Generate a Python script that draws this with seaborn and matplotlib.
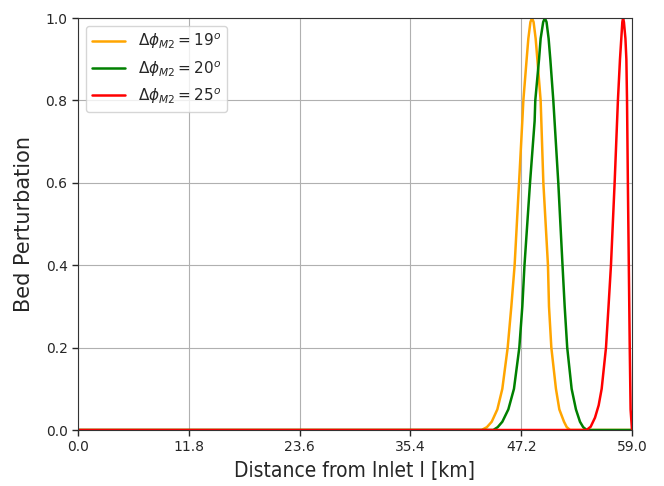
import matplotlib
matplotlib.use("Agg")
import matplotlib.pyplot as plt
import seaborn as sns
import pandas as pd

labels = [r'$\Delta\phi_{M2} = 19^o$', r'$\Delta\phi_{M2} = 20^o$', r'$\Delta\phi_{M2} = 25^o$']
colors = ['orange', 'green', 'red']

x19 = [0.0, 42.99, 43.55, 44.06, 44.66, 45.19, 45.76, 46.15, 46.5, 46.97, 47.32, 47.43, 47.78, 47.96,
       48.18, 48.35, 48.52, 48.74, 48.92, 49.27, 49.56, 50.05, 50.16, 50.41, 50.9, 51.26, 51.76,
       52.05, 52.4, 59.0]
y19 = [0.0, 0.0, 0.007, 0.02, 0.05, 0.1, 0.2, 0.3, 0.4, 0.6, 0.75, 0.8, 0.9, 0.95,
       0.99, 1.0, 0.99, 0.95, 0.9, 0.8, 0.6, 0.4, 0.3, 0.2, 0.1, 0.05, 0.02,
       0.007, 0.0, 0.0]

x20 = [0.0, 44.23, 44.7, 45.19, 45.83, 46.43, 47.0, 47.32, 47.55, 48.14, 48.63, 48.7, 49.1, 49.27,
       49.54, 49.72, 49.9, 50.12, 50.3, 50.62, 51.15, 51.6, 51.83, 52.1, 52.57, 53.03, 53.46,
       53.8, 54.17, 59.0]
y20 = [0.0, 0.0, 0.007, 0.02, 0.05, 0.1, 0.2, 0.3, 0.4, 0.6, 0.75, 0.8, 0.9, 0.95,
       0.99, 1.0, 0.99, 0.95, 0.9, 0.8, 0.6, 0.4, 0.3, 0.2, 0.1, 0.05, 0.02,
       0.007, 0.0, 0.0]

x25 = [0.0, 54.17, 54.6, 55.06, 55.45, 55.77, 56.23, 56.5, 56.76, 57.15, 57.5, 57.72, 57.86, 57.97,
       58.05, 58.14, 58.3, 58.4, 58.47, 58.56, 58.66, 58.76, 58.85, 59.0]
y25 = [0.0, 0.0, 0.008, 0.03, 0.06, 0.1, 0.2, 0.3, 0.4, 0.6, 0.8, 0.9, 0.95, 0.99,
       1.0, 0.99, 0.95, 0.9, 0.8, 0.6, 0.4, 0.2, 0.05, 0.0]

xticks = [0.0, 11.8, 23.6, 35.4, 47.2, 59.0]
yticks = [0.0, 0.2, 0.4, 0.6, 0.8, 1.0]

frames = []
for lab, xs, ys in zip(labels, [x19, x20, x25], [y19, y20, y25]):
    frames.append(pd.DataFrame({'x': xs, 'y': ys, 'series': lab}))
df = pd.concat(frames, ignore_index=True)

sns.set_style("ticks", {"axes.grid": True, "grid.color": "#b0b0b0",
                        "axes.edgecolor": "black", "xtick.bottom": True, "ytick.left": True})
plt.rcParams['font.family'] = ['DejaVu Sans']

fig = plt.figure(figsize=(6.64, 4.86), dpi=100)
ax = fig.add_axes([78 / 664, 1 - 430 / 486, (632 - 78) / 664, (430 - 18) / 486])
sns.lineplot(data=df, x='x', y='y', hue='series', palette=dict(zip(labels, colors)),
             sort=False, estimator=None, units='series', ax=ax, linewidth=1.8)

ax.set_xlim(0, 59)
ax.set_ylim(0, 1)
ax.set_xticks(xticks)
ax.set_xticklabels([f"{t:.1f}" for t in xticks])
ax.set_yticks(yticks)
ax.set_yticklabels([f"{t:.1f}" for t in yticks])
ax.tick_params(labelsize=10, length=4, width=1)
ax.grid(True, color="#b0b0b0", linewidth=0.8)
for s in ax.spines.values():
    s.set_visible(True)
    s.set_color('#333333')
ax.set_xlabel('Distance from Inlet I [km]', fontsize=15, fontstretch='condensed', labelpad=5)
ax.set_ylabel('Bed Perturbation', fontsize=15, labelpad=8)
leg = ax.legend(loc='upper left', fontsize=11, frameon=True, handlelength=2.2)
leg.set_title(None)

fig.savefig('out.png', dpi=100)
